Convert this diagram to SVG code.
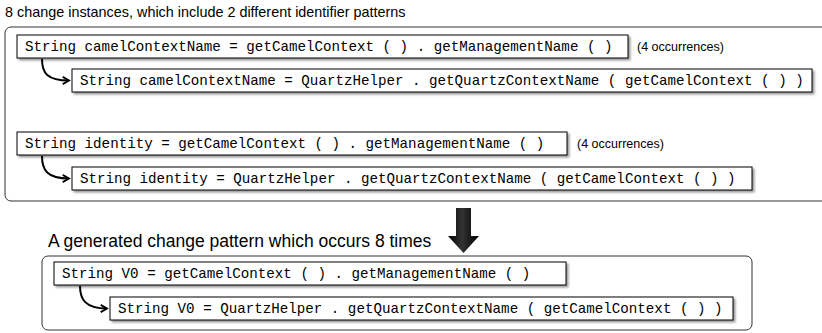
<svg xmlns="http://www.w3.org/2000/svg" width="822" height="333" viewBox="0 0 822 333">
<defs>
<filter id="sh" x="-5%" y="-30%" width="110%" height="180%">
<feDropShadow dx="2" dy="2" stdDeviation="1.3" flood-color="#000" flood-opacity="0.4"/>
</filter>
<marker id="ah" viewBox="0 0 10 10" refX="8" refY="5" markerWidth="9" markerHeight="9" markerUnits="userSpaceOnUse" orient="auto">
<path d="M1,1 L8,5 L1,9" fill="none" stroke="#000" stroke-width="2"/>
</marker>
<linearGradient id="ag" x1="0" y1="0" x2="1" y2="0">
<stop offset="0" stop-color="#000"/>
<stop offset="0.45" stop-color="#333"/>
<stop offset="1" stop-color="#000"/>
</linearGradient>
</defs>
<style>
.code{font-family:"Liberation Mono","DejaVu Sans Mono",monospace;font-size:14.2px;fill:#000}
.lbl{font-family:"Liberation Sans",Arial,sans-serif;font-size:12.5px;fill:#000}
.t1{font-family:"Liberation Sans",Arial,sans-serif;font-size:14.4px;fill:#000}
.t2{font-family:"Liberation Sans",Arial,sans-serif;font-size:17.5px;fill:#000}
.box{fill:#fff;stroke:#000;stroke-width:1;filter:url(#sh)}
.outer{fill:#fff;stroke:#333;stroke-width:1}
.conn{fill:none;stroke:#000;stroke-width:2;marker-end:url(#ah)}
</style>
<rect width="822" height="333" fill="#fff"/>
<text class="t1" x="5" y="17">8 change instances, which include 2 different identifier patterns</text>
<rect id="group1" class="outer" x="5" y="27" width="830" height="174" rx="6"/>
<g id="a1"><rect class="box" x="17" y="35" width="611" height="23"/><text class="code" x="25" y="51">String camelContextName = getCamelContext ( ) . getManagementName ( )</text></g>
<text id="occ1" class="lbl" x="637" y="51">(4 occurrences)</text>
<g id="a2"><rect class="box" x="72" y="69" width="740" height="23"/><text class="code" x="80" y="85">String camelContextName = QuartzHelper . getQuartzContextName ( getCamelContext ( ) )</text></g>
<g id="b1"><rect class="box" x="17" y="132" width="550" height="23"/><text class="code" x="25" y="148">String identity = getCamelContext ( ) . getManagementName ( )</text></g>
<text id="occ2" class="lbl" x="577" y="148">(4 occurrences)</text>
<g id="b2"><rect class="box" x="72" y="167" width="680" height="23"/><text class="code" x="80" y="183">String identity = QuartzHelper . getQuartzContextName ( getCamelContext ( ) )</text></g>
<path id="bigarrow" d="M456,208 L471,208 L471,236 L479,236 L463.5,253 L448,236 L456,236 Z" fill="url(#ag)"/>
<text class="t2" x="48" y="247">A generated change pattern which occurs 8 times</text>
<rect id="group2" class="outer" x="42" y="256" width="710" height="74" rx="6"/>
<g id="c1"><rect class="box" x="54" y="262" width="512" height="23"/><text class="code" x="62" y="278">String V0 = getCamelContext ( ) . getManagementName ( )</text></g>
<g id="c2"><rect class="box" x="110" y="297" width="623" height="23"/><text class="code" x="118" y="313">String V0 = QuartzHelper . getQuartzContextName ( getCamelContext ( ) )</text></g>
<g id="connectors">
<path class="conn" d="M42,59 C42,73 47,80.5 69,80.5"/>
<path class="conn" d="M42,156 C42,170 47,178.5 69,178.5"/>
<path class="conn" d="M80,286 C80,299 85,308.5 107,308.5"/>
</g>
</svg>
